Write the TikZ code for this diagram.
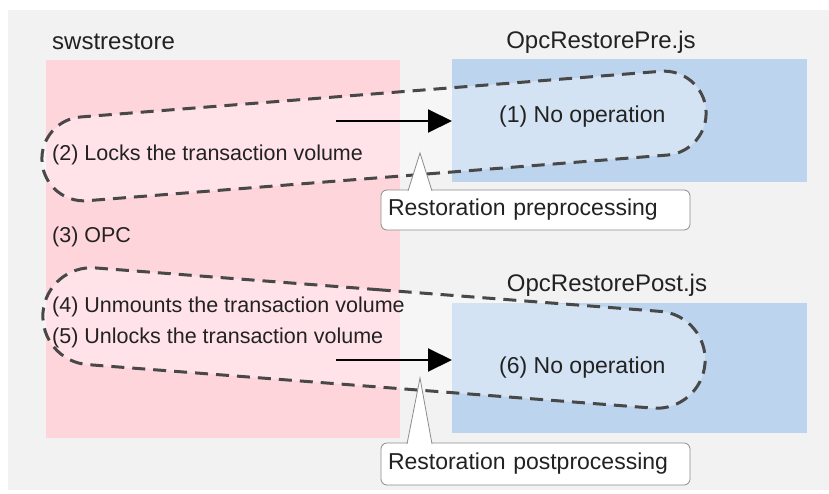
\documentclass[tikz,border=0pt]{standalone}
\usepackage{fontspec}
\setmainfont{Liberation Sans}
\usetikzlibrary{arrows.meta, positioning, shapes.misc}

\definecolor{panelgray}{RGB}{242,242,242}
\definecolor{swstpink}{RGB}{255,213,220}
\definecolor{scriptblue}{RGB}{189,212,238}
\definecolor{loopgray}{RGB}{72,72,72}
\definecolor{callgray}{RGB}{140,140,140}
\definecolor{inkgray}{RGB}{34,34,34}

\begin{document}
\begin{tikzpicture}[
  x=1pt, y=-1pt,
  every node/.style={inner sep=0pt, text=inkgray},
  steptext/.style={anchor=west, font=\fontsize{21.5}{25}\selectfont},
  optext/.style={anchor=west, font=\fontsize{23}{27}\selectfont},
  titletext/.style={font=\fontsize{24}{28}\selectfont},
  procbox/.style={anchor=north west, minimum width=354pt},
  scriptbox/.style={fill=scriptblue, anchor=north west, minimum width=355pt},
  dashloop/.style={rounded rectangle, draw=loopgray, line width=3pt,
    dash pattern=on 13pt off 8pt, fill=white, fill opacity=0.35},
  flow/.style={line width=2pt, -{Triangle[length=24pt, width=23pt]}},
  callout/.style={draw=callgray, line width=0.8pt, fill=white,
    rounded corners=6pt, text width=295pt, inner xsep=7pt, align=left,
    font=\fontsize{23}{27}\selectfont},
  pointer/.style={fill=white, draw=callgray, line width=0.8pt},
]

% ── Canvas ───────────────────────────────────────────────────────────────────
\useasboundingbox (0,0) rectangle (829,493);
\fill[white] (0,0) rectangle (829,493);
\fill[panelgray] (8,10) rectangle (829,490);

% ── Boxes ────────────────────────────────────────────────────────────────────
\node[procbox, fill=swstpink, minimum height=378pt] (swst) at (46,60) {};
\node[scriptbox, minimum height=123pt] (preBox) at (452,59) {};
\node[scriptbox, minimum height=130pt] (postBox) at (452,303) {};

% Box titles
\node[titletext, anchor=west] (swstTitle) at (52,42) {swstrestore};
\node[titletext] (preTitle) at (601,42) {OpcRestorePre.js};
\node[titletext] (postTitle) at (607,285) {OpcRestorePost.js};

% ── Dashed loops (pre / post processing) ────────────────────────────────────
\node[dashloop, minimum width=666pt, minimum height=84pt, rotate=4.5]
  (preLoop) at (374,136) {};
\node[dashloop, minimum width=664pt, minimum height=97pt, rotate=-4.4]
  (postLoop) at (374,338) {};

% ── Calls into the scripts ───────────────────────────────────────────────────
\coordinate (preFrom) at (336,121);
\coordinate (postFrom) at (336,360);
\draw[flow] (preFrom) -- (preBox.west |- preFrom);
\draw[flow] (postFrom) -- (postBox.west |- postFrom);

% ── Steps ────────────────────────────────────────────────────────────────────
\node[steptext] (lockTxt) at (52,155) {(2) Locks the transaction volume};
\node[steptext] (opcTxt) at (52,237) {(3) OPC};
\node[steptext] (umntTxt) at (52,307) {(4) Unmounts the transaction volume};
\node[steptext] (unlkTxt) at (52,338) {(5) Unlocks the transaction volume};
\node[optext] (preOp) at (499,117) {(1) No operation};
\node[optext] (postOp) at (499,368) {(6) No operation};

% ── Callouts ─────────────────────────────────────────────────────────────────
\node[callout, minimum height=40pt] (preNote) at (535.5,210)
  {Restoration preprocessing};
\coordinate (preTip) at (420,153);
\filldraw[pointer] (408,191) -- (preTip) -- (432,191);

\node[callout, minimum height=42pt] (postNote) at (535.5,464)
  {Restoration postprocessing};
\coordinate (postTip) at (420,378);
\filldraw[pointer] (407,444) -- (postTip) -- (432,444);

\end{tikzpicture}
\end{document}
